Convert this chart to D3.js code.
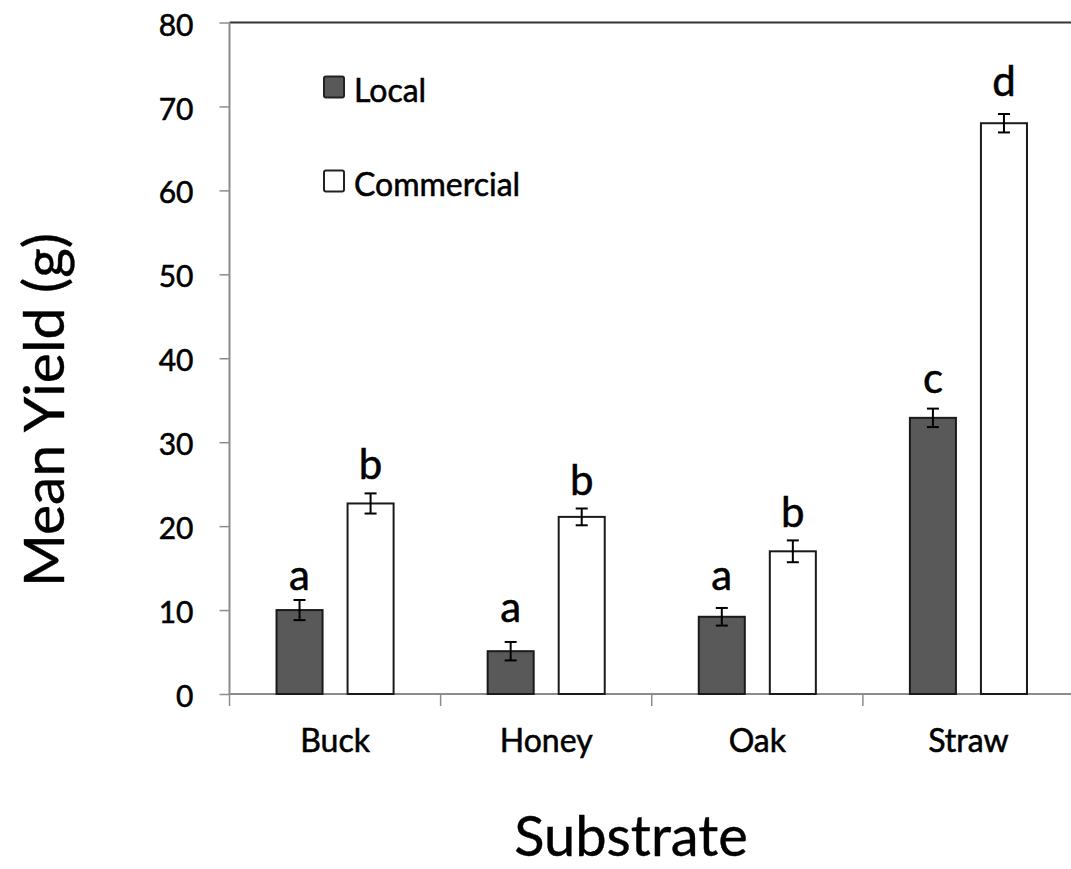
<!DOCTYPE html>
<html>
<head>
<meta charset="utf-8">
<script src="https://cdn.jsdelivr.net/npm/d3@7"></script>
<style>
  html, body { margin: 0; padding: 0; background: #fff; }
  svg { display: block; font-family: Lato, "Open Sans", sans-serif; }
</style>
</head>
<body>
<svg id="chart" width="1071" height="869"></svg>
<script>
const categories = ["Buck", "Honey", "Oak", "Straw"];
const seriesNames = ["Local", "Commercial"];
const localMeans = [10.0, 5.1, 9.2, 32.9];
const commercialMeans = [22.7, 21.1, 17.0, 68.0];
const localErr = [1.2, 1.1, 1.05, 1.1];
const commercialErr = [1.2, 1.0, 1.3, 1.1];
const localLetters = ["a", "a", "a", "c"];
const commercialLetters = ["b", "b", "b", "d"];
const localLetterY = [12.4, 8.6, 12.4, 35.9];
const commercialLetterY = [25.6, 23.7, 19.9, 71.2];
const yTicks = [0, 10, 20, 30, 40, 50, 60, 70, 80];
const yTitle = "Mean Yield (g)";
const xTitle = "Substrate";

(function () {
const rows = categories.map((c, i) => ({
  cat: c,
  vals: [
    { s: "Local", v: localMeans[i], e: localErr[i], l: localLetters[i], ly: localLetterY[i] },
    { s: "Commercial", v: commercialMeans[i], e: commercialErr[i], l: commercialLetters[i], ly: commercialLetterY[i] }
  ]
}));

const svg = d3.select("#chart");
const mLeft = 229.5, mTop = 22.5, mBottom = 694, mRight = 1074;

const x = d3.scaleBand().domain(categories).range([mLeft, mRight]).paddingInner(0).paddingOuter(0);
const xs = d3.scaleBand().domain(seriesNames).range([0, x.bandwidth()]).paddingInner(0.352).paddingOuter(0.662);
const y = d3.scaleLinear().domain([0, 80]).range([mBottom, mTop]);

const fills = { Local: "#595959", Commercial: "#ffffff" };
const heavy = sel => sel.attr("stroke", "#000").attr("stroke-width", 0.55).attr("paint-order", "stroke");

// top border
svg.append("line").attr("x1", mLeft).attr("x2", 1071).attr("y1", y(80)).attr("y2", y(80))
  .attr("stroke", "#333").attr("stroke-width", 2);

// y axis
const yAxis = svg.append("g").attr("transform", `translate(${mLeft},0)`)
  .call(d3.axisLeft(y).tickValues(yTicks).tickSize(10).tickPadding(26).tickFormat(d3.format("d")));
yAxis.select(".domain").attr("stroke", "#8c8c8c").attr("stroke-width", 2).attr("d", `M0,${y(80)}V${y(0)}`);
yAxis.selectAll(".tick line").attr("stroke", "#8c8c8c").attr("stroke-width", 1.5);
yAxis.selectAll(".tick text").attr("font-size", 30).attr("fill", "#000").attr("font-family", "Lato")
  .attr("dy", "0.42em").call(heavy);

// x axis
const xAxis = svg.append("g").attr("transform", `translate(0,${mBottom})`);
xAxis.append("line").attr("x1", mLeft).attr("x2", 1071).attr("y1", 0).attr("y2", 0)
  .attr("stroke", "#8c8c8c").attr("stroke-width", 2);
xAxis.selectAll(".xt").data(categories).join("line").attr("class", "xt")
  .attr("x1", d => x(d)).attr("x2", d => x(d)).attr("y1", 0).attr("y2", 12)
  .attr("stroke", "#8c8c8c").attr("stroke-width", 1.5);
xAxis.selectAll(".xl").data(categories).join("text").attr("class", "xl")
  .attr("x", d => x(d) + x.bandwidth() / 2).attr("y", 58)
  .attr("text-anchor", "middle").attr("font-size", 32).attr("fill", "#000").text(d => d).call(heavy);

// bars
const g = svg.selectAll(".cat").data(rows).join("g").attr("class", "cat")
  .attr("transform", d => `translate(${x(d.cat)},0)`);
g.selectAll("rect").data(d => d.vals).join("rect")
  .attr("x", d => xs(d.s)).attr("width", xs.bandwidth())
  .attr("y", d => y(d.v)).attr("height", d => y(0) - y(d.v))
  .attr("fill", d => fills[d.s]).attr("stroke", "#1a1a1a").attr("stroke-width", 2);

// error bars
const eb = g.selectAll(".err").data(d => d.vals).join("g").attr("class", "err")
  .attr("transform", d => `translate(${xs(d.s) + xs.bandwidth() / 2},0)`);
eb.append("line").attr("x1", 0).attr("x2", 0).attr("y1", d => y(d.v + d.e)).attr("y2", d => y(d.v - d.e))
  .attr("stroke", "#000").attr("stroke-width", 2);
eb.append("line").attr("x1", -6).attr("x2", 6).attr("y1", d => y(d.v + d.e)).attr("y2", d => y(d.v + d.e))
  .attr("stroke", "#000").attr("stroke-width", 2);
eb.append("line").attr("x1", -6).attr("x2", 6).attr("y1", d => y(d.v - d.e)).attr("y2", d => y(d.v - d.e))
  .attr("stroke", "#000").attr("stroke-width", 2);

// significance letters
g.selectAll(".sig").data(d => d.vals).join("text").attr("class", "sig")
  .attr("x", d => xs(d.s) + xs.bandwidth() / 2).attr("y", d => y(d.ly))
  .attr("text-anchor", "middle").attr("font-size", 42).attr("fill", "#000").text(d => d.l).call(heavy);

// legend
const legend = svg.append("g");
const legendY = [87, 181];
seriesNames.forEach((s, i) => {
  const lg = legend.append("g").attr("transform", `translate(324,${legendY[i]})`);
  lg.append("rect").attr("x", 0).attr("y", -10.5).attr("width", 20).attr("height", 21).attr("rx", 2)
    .attr("fill", fills[s]).attr("stroke", "#222").attr("stroke-width", 2);
  lg.append("text").attr("x", 30).attr("y", 15).attr("font-size", 32).attr("fill", "#000").text(s).call(heavy);
});

// axis titles
svg.append("text").attr("x", 631).attr("y", 856).attr("text-anchor", "middle")
  .attr("font-size", 56).attr("fill", "#000").text(xTitle)
  .attr("stroke", "#000").attr("stroke-width", 0.4);
svg.append("text").attr("transform", `translate(64,410) rotate(-90)`).attr("text-anchor", "middle")
  .attr("font-size", 57).attr("fill", "#000").text(yTitle)
  .attr("stroke", "#000").attr("stroke-width", 0.4);
})();
</script>
</body>
</html>
